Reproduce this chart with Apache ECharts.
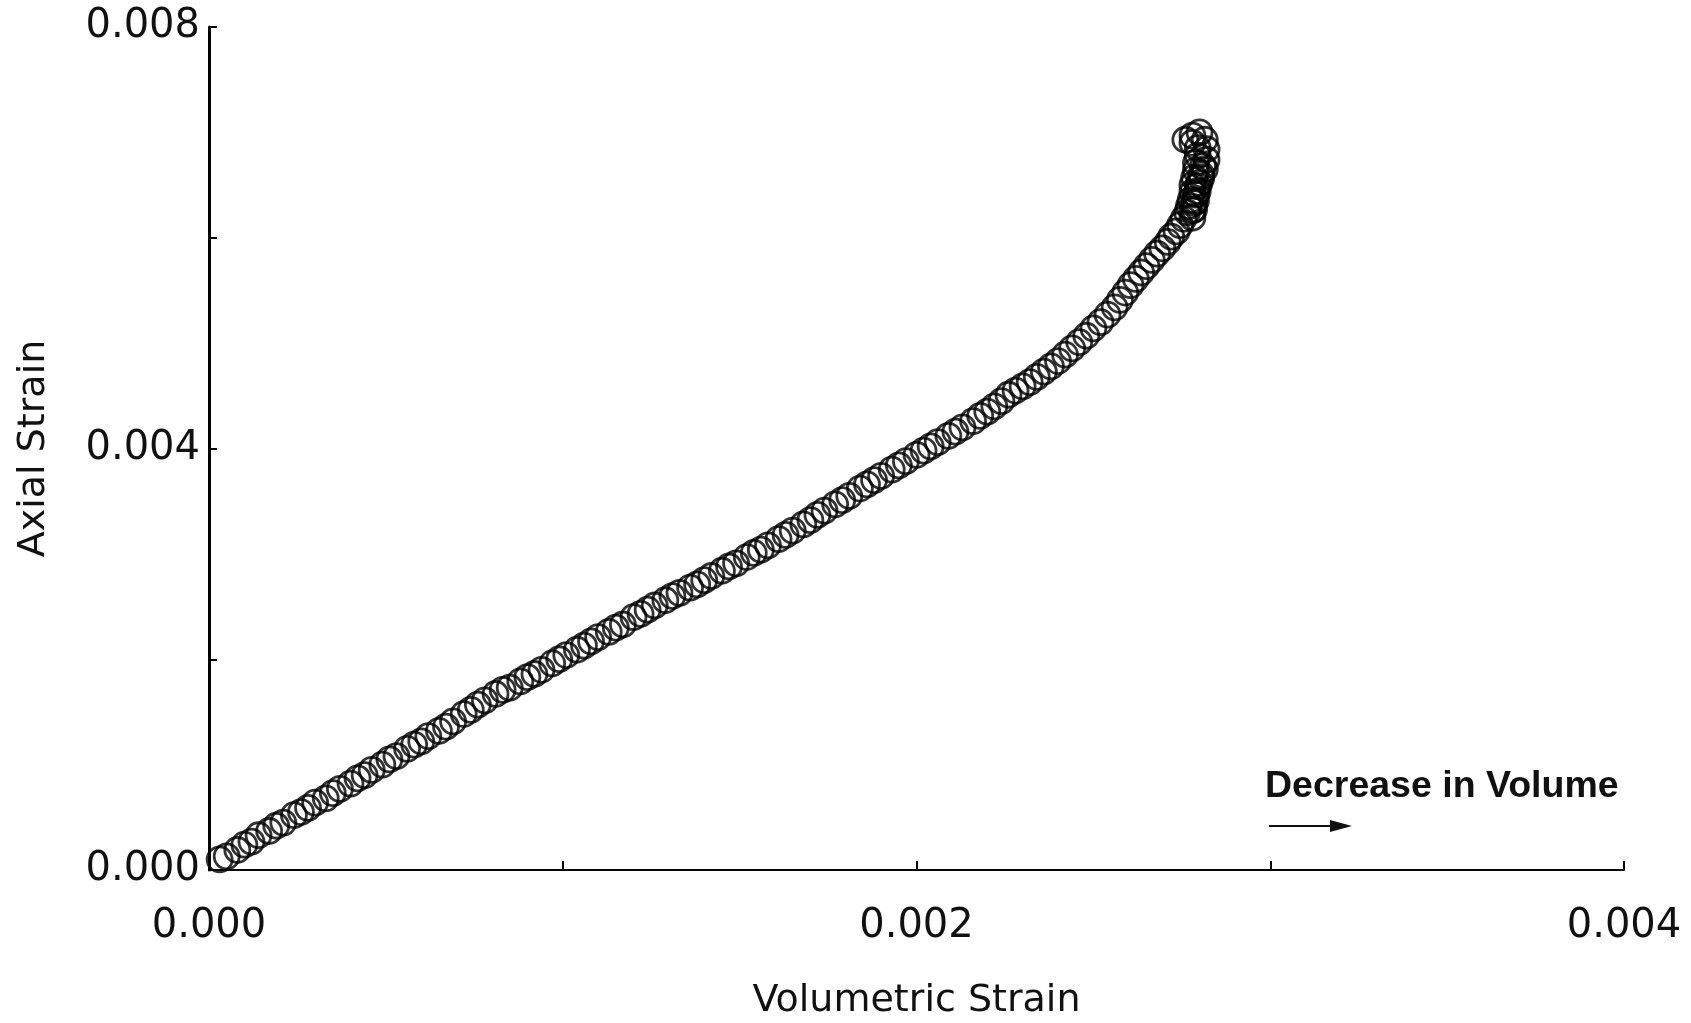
<!DOCTYPE html>
<html>
<head>
<meta charset="utf-8">
<script src="https://cdn.jsdelivr.net/npm/echarts@6/dist/echarts.min.js"></script>
<style>
html,body{margin:0;padding:0;background:#fff;}
#chart{width:1691px;height:1023px;}
</style>
</head>
<body>
<div id="chart"></div>
<script>
// Volumetric strain (x) and axial strain (y)
const volumetricStrain = [
 0.00003,0.00005,0.00008,0.00010,0.00012,0.00014,0.00017,0.00019,0.00021,0.00024,
 0.00026,0.00028,0.00030,0.00033,0.00035,0.00037,0.00040,0.00042,0.00044,0.00046,
 0.00049,0.00051,0.00053,0.00056,0.00058,0.00060,0.00062,0.00065,0.00067,0.00069,
 0.00072,0.00074,0.00076,0.00078,0.00081,0.00083,0.00085,0.00088,0.00090,0.00092,
 0.00094,0.00097,0.00099,0.00101,0.00104,0.00106,0.00108,0.00110,0.00113,0.00115,
 0.00117,0.00120,0.00122,0.00124,0.00126,0.00129,0.00131,0.00133,0.00136,0.00138,
 0.00140,0.00142,0.00145,0.00147,0.00149,0.00152,0.00154,0.00156,0.00158,0.00161,
 0.00163,0.00165,0.00168,0.00170,0.00172,0.00174,0.00177,0.00179,0.00181,0.00184,
 0.00186,0.00188,0.00190,0.00193,0.00195,0.00197,0.00200,0.00202,0.00204,0.00206,
 0.00209,0.00211,0.00213,0.00216,0.00218,0.00220,0.00222,0.00224,
 0.00226,0.00228,0.00230,0.00232,0.00234,0.00236,0.00238,0.00240,0.00242,0.00244,
 0.00246,0.00248,0.00250,0.00252,0.00254,0.00256,0.002575,0.00259,0.002605,0.00262,
 0.002635,0.00265,0.002665,0.00268,0.002695,0.00271,0.00272,0.002735,0.002745,0.002755,
 0.002765,0.00277,0.002775,0.00278,0.00278,0.002785,0.00279,0.00279,0.002795,0.002795,
 0.00278,0.00276,0.00278,0.00280,0.002815,0.00282,0.00282,0.002815,0.002805,0.002795,
 0.00279,0.002785,0.00278,0.00278,0.002785,0.00279,0.002795,0.00280,0.002805,0.00281
];
const axialStrain = [
 0.00010,0.00013,0.00019,0.00024,0.00027,0.00033,0.00037,0.00042,0.00045,0.00052,
 0.00055,0.00059,0.00064,0.00068,0.00073,0.00077,0.00082,0.00087,0.00090,0.00095,
 0.00100,0.00105,0.00108,0.00115,0.00119,0.00122,0.00127,0.00132,0.00136,0.00141,
 0.00148,0.00152,0.00157,0.00161,0.00167,0.00171,0.00173,0.00179,0.00183,0.00186,
 0.00190,0.00196,0.00200,0.00204,0.00209,0.00213,0.00217,0.00221,0.00226,0.00230,
 0.00233,0.00240,0.00243,0.00247,0.00251,0.00256,0.00260,0.00263,0.00268,0.00271,
 0.00275,0.00279,0.00284,0.00288,0.00291,0.00297,0.00301,0.00304,0.00308,0.00314,
 0.00318,0.00322,0.00328,0.00332,0.00337,0.00341,0.00347,0.00351,0.00355,0.00362,
 0.00366,0.00370,0.00374,0.00380,0.00384,0.00388,0.00394,0.00398,0.00402,0.00406,
 0.00412,0.00416,0.00420,0.00426,0.00431,0.00435,0.00440,0.00445,
 0.00451,0.00455,0.00459,0.00463,0.00468,0.00473,0.00478,0.00483,0.00489,0.00495,
 0.00501,0.00507,0.00514,0.00520,0.00527,0.00534,0.00541,0.00548,0.00555,0.00561,
 0.00567,0.00573,0.00579,0.00585,0.00590,0.00596,0.00601,0.00606,0.00612,0.00618,
 0.00624,0.00630,0.00636,0.00643,0.00650,0.00657,0.00664,0.00671,0.00678,0.00685,
 0.00690,0.00693,0.00697,0.00700,0.00693,0.00684,0.00674,0.00665,0.00657,0.00649,
 0.00641,0.00633,0.00626,0.00619,0.00627,0.00635,0.00644,0.00652,0.00660,0.00668
];
const xTickLabels = ['0.000', '0.002', '0.004'];
const yTickLabels = ['0.000', '0.004', '0.008'];
const xAxisTitle = 'Volumetric Strain';
const yAxisTitle = 'Axial Strain';
const annotationText = 'Decrease in Volume';

const points = volumetricStrain.map((v, i) => [v, axialStrain[i]]);

const chart = echarts.init(document.getElementById('chart'), null, {renderer: 'canvas'});
const labelFont = 'DejaVu Sans';
chart.setOption({
  backgroundColor: '#ffffff',
  animation: false,
  grid: {left: 209, right: 67, top: 27, bottom: 153, containLabel: false, outerBoundsMode: 'none'},
  xAxis: {
    type: 'value', min: 0, max: 0.004, interval: 0.001,
    name: xAxisTitle, nameLocation: 'middle', nameGap: 112,
    nameTextStyle: {fontFamily: labelFont, fontSize: 38, color: '#111'},
    axisLine: {show: true, onZero: false, lineStyle: {color: '#000', width: 2}},
    axisTick: {show: true, inside: true, length: 9, lineStyle: {color: '#000', width: 2}},
    splitLine: {show: false},
    axisLabel: {
      margin: 37, fontFamily: labelFont, fontSize: 40, color: '#111',
      formatter: v => {
        const k = Math.round(v / 0.002 * 1000) / 1000;
        return Number.isInteger(k) && xTickLabels[k] !== undefined ? xTickLabels[k] : '';
      }
    }
  },
  yAxis: {
    type: 'value', min: 0, max: 0.008, interval: 0.002,
    name: yAxisTitle, nameLocation: 'middle', nameGap: 156, nameRotate: 90,
    nameTextStyle: {fontFamily: labelFont, fontSize: 38, color: '#111'},
    axisLine: {show: true, onZero: false, lineStyle: {color: '#000', width: 3}},
    axisTick: {show: true, inside: true, length: 8, lineStyle: {color: '#000', width: 2}},
    splitLine: {show: false},
    axisLabel: {
      margin: 9, fontFamily: labelFont, fontSize: 40, color: '#111',
      formatter: v => {
        const k = Math.round(v / 0.004 * 1000) / 1000;
        return Number.isInteger(k) && yTickLabels[k] !== undefined ? yTickLabels[k] : '';
      }
    }
  },
  series: [{
    type: 'scatter',
    data: points,
    symbol: 'circle',
    symbolSize: 25,
    clip: false,
    itemStyle: {color: 'rgba(255,255,255,0)', borderColor: '#000', borderWidth: 2.8},
    emphasis: {disabled: true}
  }],
  graphic: [
    {type: 'text', left: 1265, top: 768,
     style: {text: annotationText, fontFamily: 'Liberation Sans', fontWeight: 'bold', fontSize: 37.5, fill: '#111'}},
    {type: 'line', shape: {x1: 1269, y1: 826, x2: 1334, y2: 826},
     style: {stroke: '#111', lineWidth: 2}},
    {type: 'polygon', shape: {points: [[1330, 820], [1352, 826], [1330, 832]]},
     style: {fill: '#111'}}
  ]
});
</script>
</body>
</html>
